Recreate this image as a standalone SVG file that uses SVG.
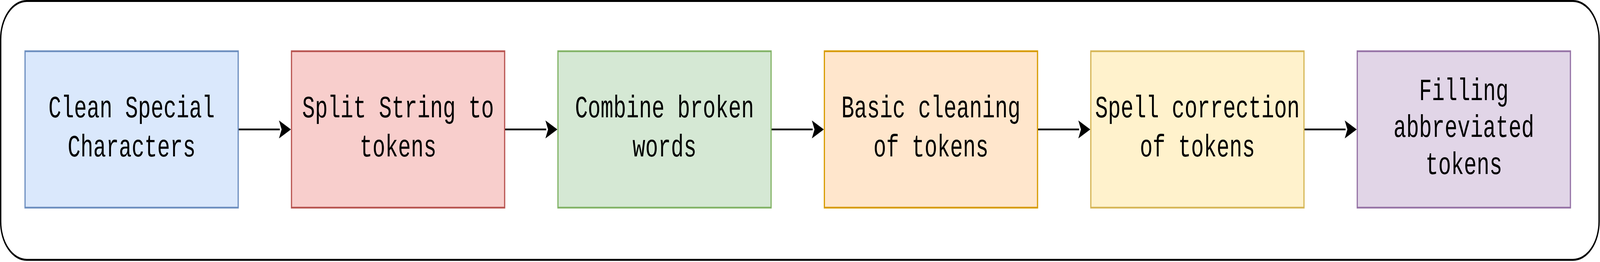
<svg xmlns="http://www.w3.org/2000/svg" width="6005" height="670" viewBox="0 0 6005 670" style="width:100vw;height:100vh;display:block" preserveAspectRatio="none">
  <style>
    .frame { fill: #ffffff; stroke: #000000; stroke-width: 5; }
    .box { stroke-width: 4.5; }
    .lbl { font-family: "Liberation Mono", "Courier New", monospace; font-size: 80px; fill: #000000; text-anchor: middle; }
    .edge { stroke: #000000; stroke-width: 4.5; fill: none; }
    .head { fill: #000000; }
    .blue { fill: #dae8fc; stroke: #6c8ebf; }
    .red { fill: #f8cecc; stroke: #b85450; }
    .green { fill: #d5e8d4; stroke: #82b366; }
    .orange { fill: #ffe6cc; stroke: #d79b00; }
    .yellow { fill: #fff2cc; stroke: #d6b656; }
    .purple { fill: #e1d5e7; stroke: #9673a6; }
  </style>
  <g id="container">
    <rect class="frame" x="2.5" y="2.5" width="5999" height="662" rx="98" ry="98"/>
  </g>
  <g id="connectors">
    <line class="edge" x1="894" y1="331" x2="1050" y2="331"/>
    <line class="edge" x1="1894" y1="331" x2="2050" y2="331"/>
    <line class="edge" x1="2894" y1="331" x2="3050" y2="331"/>
    <line class="edge" x1="3894" y1="331" x2="4050" y2="331"/>
    <line class="edge" x1="4894" y1="331" x2="5050" y2="331"/>
    <path class="head" d="M1047,308 L1092,331 L1047,354 L1057,331 Z"/>
    <path class="head" d="M2047,308 L2092,331 L2047,354 L2057,331 Z"/>
    <path class="head" d="M3047,308 L3092,331 L3047,354 L3057,331 Z"/>
    <path class="head" d="M4047,308 L4092,331 L4047,354 L4057,331 Z"/>
    <path class="head" d="M5047,308 L5092,331 L5047,354 L5057,331 Z"/>
  </g>
  <g id="node-clean">
    <rect class="box blue" x="94" y="131" width="800" height="400"/>
    <text class="lbl" x="494" y="300">Clean Special</text>
    <text class="lbl" x="494" y="400">Characters</text>
  </g>
  <g id="node-split">
    <rect class="box red" x="1094" y="131" width="800" height="400"/>
    <text class="lbl" x="1494" y="300">Split String to</text>
    <text class="lbl" x="1494" y="400">tokens</text>
  </g>
  <g id="node-combine">
    <rect class="box green" x="2094" y="131" width="800" height="400"/>
    <text class="lbl" x="2494" y="300">Combine broken</text>
    <text class="lbl" x="2494" y="400">words</text>
  </g>
  <g id="node-basic">
    <rect class="box orange" x="3094" y="131" width="800" height="400"/>
    <text class="lbl" x="3494" y="300">Basic cleaning</text>
    <text class="lbl" x="3494" y="400">of tokens</text>
  </g>
  <g id="node-spell">
    <rect class="box yellow" x="4094" y="131" width="800" height="400"/>
    <text class="lbl" x="4494" y="300">Spell correction</text>
    <text class="lbl" x="4494" y="400">of tokens</text>
  </g>
  <g id="node-fill">
    <rect class="box purple" x="5094" y="131" width="800" height="400"/>
    <text class="lbl" x="5494" y="256">Filling</text>
    <text class="lbl" x="5494" y="350">abbreviated</text>
    <text class="lbl" x="5494" y="445">tokens</text>
  </g>
</svg>
